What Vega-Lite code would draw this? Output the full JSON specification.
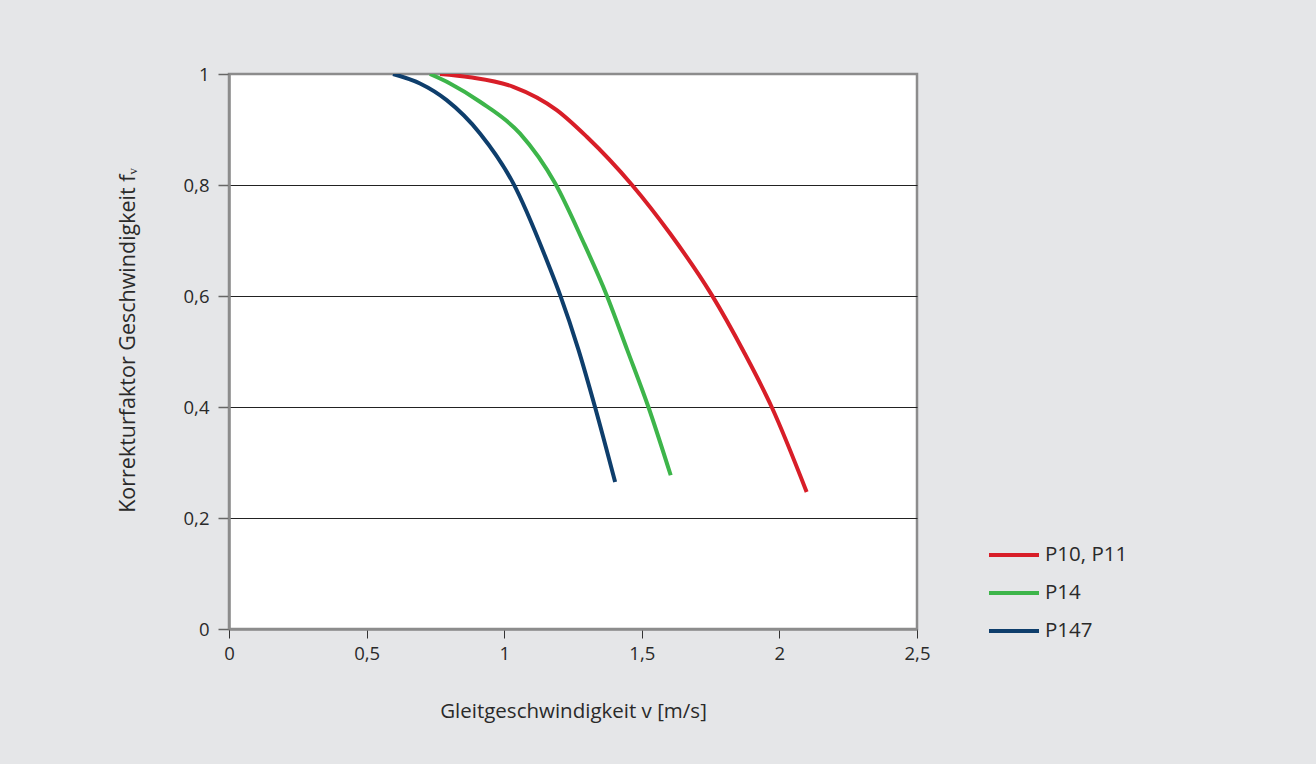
{
  "$schema": "https://vega.github.io/schema/vega-lite/v6.json",
  "width": 688,
  "height": 555,
  "autosize": {"type": "none"},
  "padding": {"left": 229, "top": 74, "right": 399, "bottom": 135},
  "background": "#e5e6e8",
  "config": {
    "font": "Open Sans",
    "view": {"fill": "white", "stroke": "#8c8c8c", "strokeWidth": 2.5}
  },
  "data": {
    "values": [
      {"series": "P10, P11", "v": 0.767, "f": 1.0},
      {"series": "P10, P11", "v": 0.876, "f": 0.994},
      {"series": "P10, P11", "v": 1.033, "f": 0.977},
      {"series": "P10, P11", "v": 1.191, "f": 0.935},
      {"series": "P10, P11", "v": 1.3, "f": 0.887},
      {"series": "P10, P11", "v": 1.463, "f": 0.801},
      {"series": "P10, P11", "v": 1.602, "f": 0.713},
      {"series": "P10, P11", "v": 1.754, "f": 0.602},
      {"series": "P10, P11", "v": 1.87, "f": 0.5},
      {"series": "P10, P11", "v": 1.972, "f": 0.4},
      {"series": "P10, P11", "v": 2.099, "f": 0.247},
      {"series": "P14", "v": 0.73, "f": 1.0},
      {"series": "P14", "v": 0.803, "f": 0.983},
      {"series": "P14", "v": 0.912, "f": 0.95},
      {"series": "P14", "v": 1.057, "f": 0.893},
      {"series": "P14", "v": 1.185, "f": 0.803},
      {"series": "P14", "v": 1.285, "f": 0.7},
      {"series": "P14", "v": 1.372, "f": 0.602},
      {"series": "P14", "v": 1.447, "f": 0.503},
      {"series": "P14", "v": 1.524, "f": 0.4},
      {"series": "P14", "v": 1.605, "f": 0.277},
      {"series": "P147", "v": 0.596, "f": 1.0},
      {"series": "P147", "v": 0.694, "f": 0.983},
      {"series": "P147", "v": 0.791, "f": 0.953},
      {"series": "P147", "v": 0.912, "f": 0.893},
      {"series": "P147", "v": 1.033, "f": 0.803},
      {"series": "P147", "v": 1.166, "f": 0.65},
      {"series": "P147", "v": 1.203, "f": 0.602},
      {"series": "P147", "v": 1.27, "f": 0.503},
      {"series": "P147", "v": 1.33, "f": 0.4},
      {"series": "P147", "v": 1.403, "f": 0.265}
    ]
  },
  "mark": {"type": "line", "strokeWidth": 4, "interpolate": "monotone", "clip": true},
  "encoding": {
    "x": {
      "field": "v",
      "type": "quantitative",
      "scale": {"domain": [0, 2.5], "nice": false},
      "axis": {
        "values": [0, 0.5, 1, 1.5, 2, 2.5],
        "labelExpr": "replace(format(datum.value, '.1~f'), '.', ',')",
        "labelFlush": false,
        "title": "Gleitgeschwindigkeit v [m/s]",
        "grid": false,
        "domainColor": "#8c8c8c",
        "domainWidth": 2.5,
        "tickColor": "#333333",
        "tickWidth": 1,
        "tickSize": 9,
        "labelPadding": 6,
        "labelFontSize": 18.5,
        "labelColor": "#2a2a2a",
        "labelFont": "Open Sans",
        "titleFont": "Open Sans",
        "titleFontSize": 20.5,
        "titleFontWeight": "normal",
        "titleColor": "#2a2a2a",
        "titlePadding": 39
      }
    },
    "y": {
      "field": "f",
      "type": "quantitative",
      "scale": {"domain": [0, 1], "nice": false},
      "axis": {
        "values": [0, 0.2, 0.4, 0.6, 0.8, 1],
        "labelExpr": "replace(format(datum.value, '.1~f'), '.', ',')",
        "labelFlush": false,
        "title": "Korrekturfaktor Geschwindigkeit fᵥ",
        "grid": true,
        "gridColor": {"condition": {"test": "datum.value == 0 || datum.value == 1", "value": "transparent"}, "value": "#222222"},
        "gridWidth": 1,
        "domainColor": "#8c8c8c",
        "domainWidth": 2.5,
        "tickColor": "#666666",
        "tickWidth": 1.5,
        "tickSize": 11,
        "labelPadding": 9,
        "labelFontSize": 18.5,
        "labelColor": "#2a2a2a",
        "labelFont": "Open Sans",
        "titleFont": "Open Sans",
        "titleFontSize": 21.5,
        "titleFontWeight": "normal",
        "titleColor": "#2a2a2a",
        "titlePadding": 44,
        "titleY": 266
      }
    },
    "color": {
      "field": "series",
      "type": "nominal",
      "scale": {
        "domain": ["P10, P11", "P14", "P147"],
        "range": ["#d81e28", "#3db54a", "#0e3e6c"]
      },
      "legend": {
        "title": null,
        "orient": "none",
        "legendX": 758,
        "legendY": 454,
        "symbolType": "stroke",
        "symbolSize": 2500,
        "symbolStrokeWidth": 4,
        "labelFontSize": 20.5,
        "labelFont": "Open Sans",
        "labelColor": "#2a2a2a",
        "labelOffset": 4,
        "rowPadding": -19,
        "padding": 0
      }
    }
  }
}
